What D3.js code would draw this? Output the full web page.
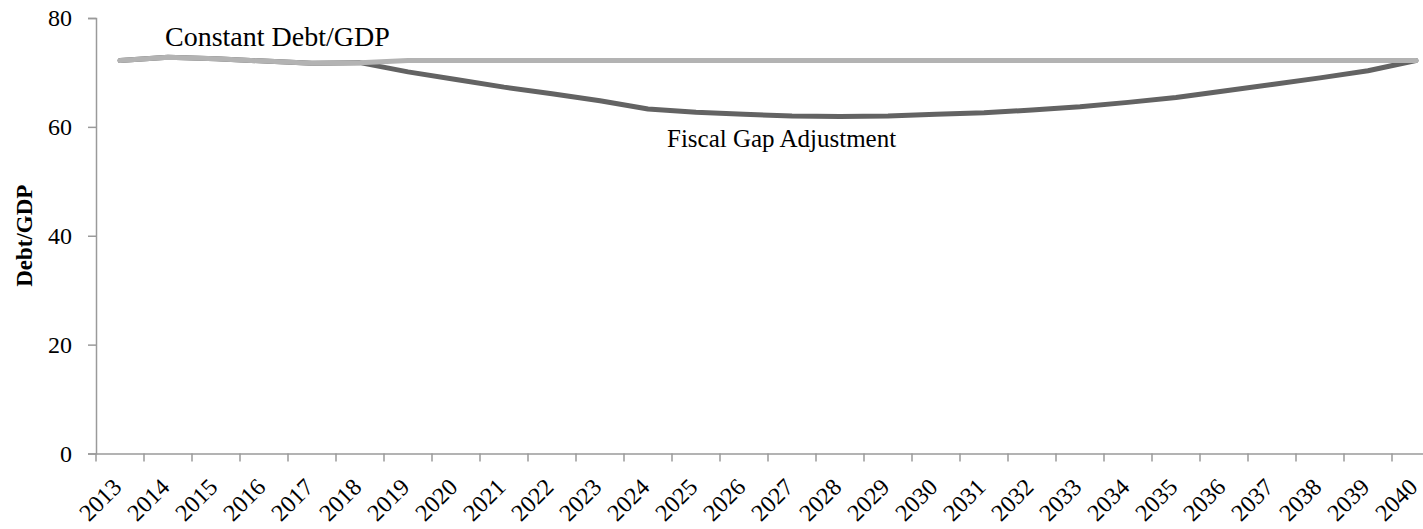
<!DOCTYPE html>
<html>
<head>
<meta charset="utf-8">
<script src="https://cdn.jsdelivr.net/npm/d3@7"></script>
<style>
  html, body { margin: 0; padding: 0; background: #fff; }
  svg { display: block; }
  text { font-family: "Liberation Serif", "Times New Roman", serif; fill: #000; }
</style>
</head>
<body>
<svg id="chart" width="1423" height="529"></svg>
<script>
// ---- data ----
const years = [2013,2014,2015,2016,2017,2018,2019,2020,2021,2022,2023,2024,2025,2026,
               2027,2028,2029,2030,2031,2032,2033,2034,2035,2036,2037,2038,2039,2040];
const constantDebt = [72.2,72.8,72.5,72.1,71.7,71.8,72.2,72.2,72.2,72.2,72.2,72.2,72.2,72.2,
                      72.2,72.2,72.2,72.2,72.2,72.2,72.2,72.2,72.2,72.2,72.2,72.2,72.2,72.2];
const fiscalGap = [72.2,72.8,72.5,72.1,71.7,71.8,70.1,68.7,67.3,66.1,64.8,63.3,62.7,62.3,
                   62.0,61.9,62.0,62.3,62.6,63.1,63.7,64.5,65.4,66.6,67.8,69.0,70.3,72.2];
const yTicks = [0, 20, 40, 60, 80];
const seriesNames = ["Constant Debt/GDP", "Fiscal Gap Adjustment"];
const yTitle = "Debt/GDP";

// ---- layout ----
const plotLeft = 96, plotTop = 18, plotBottom = 453.5, bandW = 48;
const svg = d3.select("#chart");

const x = d3.scaleBand().domain(years).range([plotLeft, plotLeft + bandW * years.length]).padding(0);
const cx = d => x(d) + x.bandwidth() / 2;
const y = d3.scaleLinear().domain([0, 80]).range([plotBottom, plotTop]);

const axisColor = "#9a9a9a";

// y axis
const yAxis = svg.append("g")
  .attr("transform", `translate(${plotLeft},0)`)
  .call(d3.axisLeft(y).tickValues(yTicks).tickSize(8).tickPadding(16));
yAxis.select(".domain").attr("stroke", axisColor).attr("stroke-width", 1.5);
yAxis.selectAll(".tick line").attr("stroke", axisColor).attr("stroke-width", 1.5);
yAxis.selectAll(".tick text").style("font-size", "24px").style("font-family", "Liberation Serif").attr("fill", "#000");

// x axis line + ticks at band boundaries
const xAxis = svg.append("g")
  .attr("transform", `translate(0,${plotBottom})`)
  .call(d3.axisBottom(x).tickSize(0).tickFormat(() => ""));
xAxis.select(".domain").attr("stroke", axisColor).attr("stroke-width", 1.5);
xAxis.selectAll(".tick").remove();

const boundaries = years.map(d => x(d)).concat([x(years[years.length - 1]) + x.bandwidth()]);
svg.append("g").selectAll("line").data(boundaries).join("line")
  .attr("x1", d => d).attr("x2", d => d)
  .attr("y1", plotBottom).attr("y2", plotBottom + 8)
  .attr("stroke", axisColor).attr("stroke-width", 1.5);

// x labels rotated
svg.append("g").selectAll("text").data(years).join("text")
  .attr("transform", d => `translate(${cx(d) + 3},${plotBottom + 35}) rotate(-45)`)
  .attr("text-anchor", "end")
  .style("font-size", "24px")
  .text(d => d);

// y title
svg.append("text")
  .attr("transform", `translate(32,${(plotTop + plotBottom) / 2}) rotate(-90)`)
  .attr("text-anchor", "middle")
  .style("font-size", "23px")
  .style("font-weight", "bold")
  .text(yTitle);

// lines
const line = d3.line().x((d, i) => cx(years[i])).y(d => y(d));
svg.append("path").datum(fiscalGap)
  .attr("d", line).attr("fill", "none")
  .attr("stroke", "#636363").attr("stroke-width", 5)
  .attr("stroke-linejoin", "round").attr("stroke-linecap", "round");
svg.append("path").datum(constantDebt)
  .attr("d", line).attr("fill", "none")
  .attr("stroke", "#b3b3b3").attr("stroke-width", 5)
  .attr("stroke-linejoin", "round").attr("stroke-linecap", "round");

// series labels
svg.append("text").attr("x", 165).attr("y", 46)
  .style("font-size", "28px").text(seriesNames[0]);
svg.append("text").attr("x", 667).attr("y", 147)
  .style("font-size", "25px").text(seriesNames[1]);
</script>
</body>
</html>
